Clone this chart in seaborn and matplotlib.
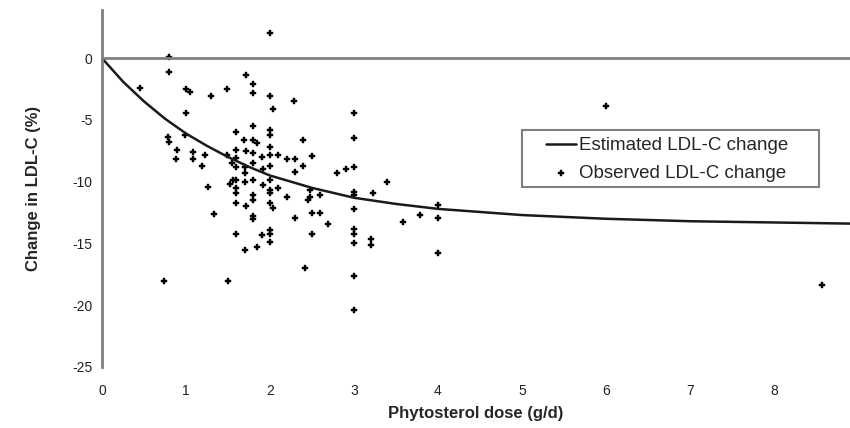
import numpy as np
import pandas as pd
import matplotlib
matplotlib.use("Agg")
import matplotlib.pyplot as plt
from matplotlib.patches import Rectangle
import seaborn as sns

# estimated curve
curve_dose = [0, 0.25, 0.5, 0.75, 1, 1.25, 1.5, 1.75, 2, 2.5, 3, 3.5, 4, 5, 6, 7, 8, 9]
curve_change = [0, -1.9, -3.5, -4.9, -6.1, -7.1, -8.0, -8.8, -9.5, -10.5, -11.3,
                -11.8, -12.2, -12.7, -13.0, -13.2, -13.3, -13.4]

# observed study arms
obs_dose = [0.45,
            0.8, 0.8, 0.78, 0.8, 0.74,
            0.89, 0.88,
            1.0, 1.05, 1.0, 0.99,
            1.08, 1.08,
            1.23, 1.19, 1.26,
            1.3, 1.33,
            1.49, 1.49, 1.5, 1.56, 1.55, 1.52,
            1.6, 1.6, 1.6, 1.6, 1.6, 1.6, 1.6, 1.6, 1.6,
            1.71, 1.69, 1.7, 1.7, 1.7, 1.72, 1.72, 1.7,
            1.8, 1.8, 1.8, 1.8, 1.8, 1.8, 1.8, 1.8, 1.8, 1.8, 1.85, 1.84, 1.8,
            1.9, 1.92, 1.9, 1.92,
            2.0, 2.0, 2.04, 2.0, 2.0, 2.0, 2.0, 2.0, 2.0, 2.0, 2.0, 2.0, 2.04, 2.0, 2.0, 2.0,
            2.1, 2.1,
            2.2, 2.2,
            2.29, 2.3, 2.3, 2.3,
            2.39, 2.39, 2.42,
            2.5, 2.48, 2.45, 2.5, 2.5, 2.48,
            2.6, 2.6,
            2.69,
            2.8,
            2.9,
            3.0, 3.0, 3.0, 3.0, 3.0, 3.0, 3.0, 3.0, 3.0, 3.0, 3.0,
            3.23, 3.2, 3.2,
            3.39,
            3.58,
            3.79,
            4.0, 4.0, 4.0,
            6.0,
            8.57]
obs_change = [-2.4,
              0.1, -1.1, -6.4, -6.8, -18.0,
              -7.4, -8.2,
              -2.5, -2.7, -4.4, -6.2,
              -7.6, -8.2,
              -7.8, -8.7, -10.4,
              -3.1, -12.6,
              -2.5, -7.8, -18.0, -9.9, -8.5, -10.2,
              -6.0, -7.4, -8.1, -8.8, -9.9, -10.5, -10.9, -11.7, -14.2,
              -1.4, -6.6, -8.8, -10.0, -15.5, -12.0, -7.5, -9.3,
              -2.1, -2.8, -5.5, -6.6, -7.7, -8.5, -9.9, -11.1, -11.5, -13.0, -6.9, -15.3, -12.8,
              -14.3, -10.3, -8.0, -9.0,
              2.0, -3.1, -4.1, -5.8, -6.2, -7.2, -7.8, -8.7, -9.9, -10.7, -10.9, -11.7, -12.1, -13.9, -14.9, -14.2,
              -7.8, -10.5,
              -8.2, -11.2,
              -3.5, -8.2, -9.2, -12.9,
              -6.6, -8.7, -17.0,
              -7.9, -10.7, -11.5, -12.5, -14.2, -11.2,
              -11.1, -12.5,
              -13.4,
              -9.3,
              -9.0,
              -4.4, -6.5, -8.8, -10.8, -11.1, -12.2, -13.8, -14.2, -15.0, -17.6, -20.4,
              -10.9, -14.6, -15.1,
              -10.0,
              -13.3,
              -12.7,
              -11.9, -12.9, -15.8,
              -3.9,
              -18.4]

x_ticks = [0, 1, 2, 3, 4, 5, 6, 7, 8]
y_ticks = [-25, -20, -15, -10, -5, 0]

curve = pd.DataFrame({"dose": curve_dose, "change": curve_change})
obs = pd.DataFrame({"dose": obs_dose, "change": obs_change})

sns.set_style("white")
plt.rcParams["font.family"] = ["Liberation Sans", "DejaVu Sans"]
plt.rcParams["axes.unicode_minus"] = False

axis_grey = "#7f7f7f"

fig = plt.figure(figsize=(8.5, 4.28), dpi=100)
ax = fig.add_axes([102 / 850, 61 / 428, 748 / 850, 357 / 428])

sns.lineplot(data=curve, x="dose", y="change", ax=ax, color="#1a1a1a",
             linewidth=1.8, label="Estimated LDL-C change")
sns.scatterplot(data=obs, x="dose", y="change", ax=ax, color="black",
                marker="P", s=20, edgecolor="black", linewidth=0.3,
                label="Observed LDL-C change")

ax.set_xlim(0, 748 / 84)
ax.set_ylim(-25, 3.9)
ax.set_yticks(y_ticks)
ax.set_xticks(x_ticks)

# x axis crosses at 0, labels kept at the bottom
for s in ["top", "right"]:
    ax.spines[s].set_visible(False)
ax.spines["bottom"].set_position(("data", 0))
ax.spines["bottom"].set_color(axis_grey)
ax.spines["bottom"].set_linewidth(2)
ax.spines["left"].set_color(axis_grey)
ax.spines["left"].set_linewidth(2)
ax.tick_params(axis="x", direction="out", length=4, width=1.2, color=axis_grey,
               labelbottom=False)
ax.tick_params(axis="y", direction="out", length=4, width=1.2, color=axis_grey,
               labelsize=10, labelcolor="#222222", pad=3)
ax.set_xlabel("")
ax.set_ylabel("Change in LDL-C (%)", fontsize=12, fontweight="bold", labelpad=22)

sec = ax.secondary_xaxis("bottom")
sec.set_xticks(x_ticks)
sec.spines["bottom"].set_visible(False)
sec.tick_params(length=0, labelsize=10, labelcolor="#222222", pad=12)
sec.set_xlabel("Phytosterol dose (g/d)", fontsize=12, fontweight="bold", labelpad=6)

# legend box drawn separately so the side padding can be wider than the top
ax.add_patch(Rectangle((522 / 850, 1 - 187 / 428), 297 / 850, 57 / 428,
                       transform=fig.transFigure, facecolor="white",
                       edgecolor=axis_grey, linewidth=1.5, zorder=3, clip_on=False))
leg = ax.legend(loc="upper left", bbox_to_anchor=(546 / 850, 1 - 137 / 428),
                bbox_transform=fig.transFigure, borderaxespad=0, borderpad=0,
                frameon=False, fontsize=13.5, handlelength=1.6,
                handletextpad=0.15, labelspacing=0.55)
leg.set_zorder(5)

fig.savefig("out.png", dpi=100)
